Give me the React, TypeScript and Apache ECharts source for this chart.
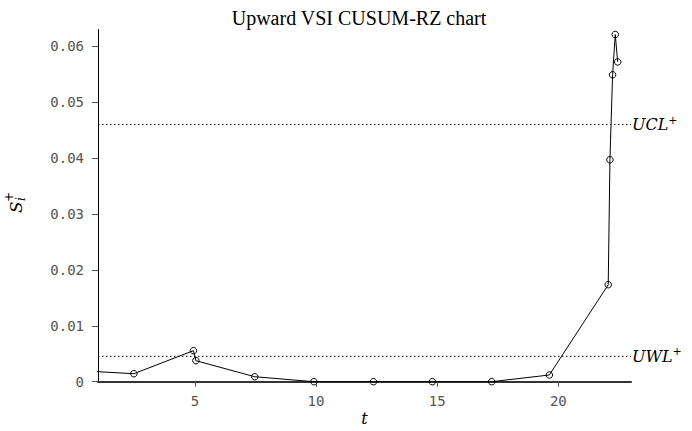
import React, { useEffect, useRef } from "react";
import * as echarts from "echarts";

const titleText = "Upward VSI CUSUM-RZ chart";
const xName = "t";
const tValues = [0.0, 2.48, 4.94, 5.04, 7.47, 9.91, 12.37, 14.8, 17.25, 19.63, 22.06, 22.13, 22.24, 22.35, 22.45];
const sValues = [0.00203, 0.00143, 0.00555, 0.00376, 0.00089, 0, 0, 0, 0, 0.0012, 0.01735, 0.0397, 0.0549, 0.0621, 0.0572];
const uclValue = 0.046;
const uwlValue = 0.00454;
const xRange = [1, 23];
const xTicks = [5, 10, 15, 20];
const yTicks = [0, 0.01, 0.02, 0.03, 0.04, 0.05, 0.06];

export default function App() {
  const ref = useRef<HTMLDivElement>(null);
  useEffect(() => {
    if (!ref.current) return;
    document.body.style.margin = "0";
    const chart = echarts.init(ref.current, undefined, { renderer: "svg" });
    const tickFont = { fontFamily: "DejaVu Sans Mono", fontSize: 14, color: "#555" };
    const limitSeries = (name: string, value: number) => ({
      type: "line",
      name,
      data: [
        [xRange[0], value],
        [xRange[1], value],
      ],
      symbol: "none",
      silent: true,
      lineStyle: { color: "#000", type: [1.5, 2.5], width: 1 },
      endLabel: {
        show: true,
        distance: 1,
        formatter: `{a|${name}}{b|+}`,
        rich: {
          a: { fontFamily: "DejaVu Serif", fontStyle: "italic", fontSize: 16, color: "#000" },
          b: { fontFamily: "DejaVu Serif", fontSize: 11, color: "#000", padding: [0, 0, 9, 0] },
        },
      },
    });
    chart.setOption({
      animation: false,
      backgroundColor: "#fff",
      title: {
        text: titleText,
        left: 354,
        textAlign: "center",
        top: 3,
        textStyle: { fontFamily: "Liberation Serif", fontWeight: "normal", fontSize: 20, color: "#000" },
      },
      grid: { left: 98, right: 61, top: 29.5, bottom: 49.3 },
      xAxis: {
        type: "value",
        min: xRange[0],
        max: xRange[1],
        splitLine: { show: false },
        axisLine: { show: true, onZero: false, lineStyle: { color: "#333", width: 2 } },
        axisTick: { show: true, customValues: xTicks, length: 5, lineStyle: { color: "#555", width: 1 } },
        axisLabel: { customValues: xTicks, margin: 12, ...tickFont },
      },
      yAxis: {
        type: "value",
        min: 0,
        max: 0.063,
        splitLine: { show: false },
        axisLine: { show: true, lineStyle: { color: "#000", width: 1 } },
        axisTick: { show: true, customValues: yTicks, length: 6, lineStyle: { color: "#555", width: 1 } },
        axisLabel: {
          customValues: yTicks,
          margin: 14,
          formatter: (v: number) => (v === 0 ? "0" : v.toFixed(2)),
          ...tickFont,
        },
      },
      graphic: [
        {
          type: "text",
          x: 364.5,
          y: 418,
          style: {
            text: xName,
            font: "italic 16px 'DejaVu Serif'",
            fill: "#000",
            textAlign: "center",
            textVerticalAlign: "middle",
          },
        },
        {
          type: "group",
          x: 16,
          y: 206,
          rotation: Math.PI / 2,
          children: [
            { type: "text", x: -7, y: -9, style: { text: "S", font: "italic 17px 'DejaVu Serif'", fill: "#000" } },
            { type: "text", x: 4, y: -13, style: { text: "+", font: "12px 'DejaVu Serif'", fill: "#000" } },
            { type: "text", x: 5, y: -1, style: { text: "i", font: "italic 12px 'DejaVu Serif'", fill: "#000" } },
          ],
        },
      ],
      series: [
        limitSeries("UCL", uclValue),
        limitSeries("UWL", uwlValue),
        {
          type: "line",
          data: tValues.map((t, i) => [t, sValues[i]]),
          clip: true,
          symbol: "circle",
          symbolSize: 6.5,
          lineStyle: { color: "#000", width: 1 },
          itemStyle: { color: "rgba(0,0,0,0)", borderColor: "#000", borderWidth: 1 },
        },
      ],
    });
    return () => chart.dispose();
  }, []);
  return <div ref={ref} style={{ width: 692, height: 431 }} />;
}
